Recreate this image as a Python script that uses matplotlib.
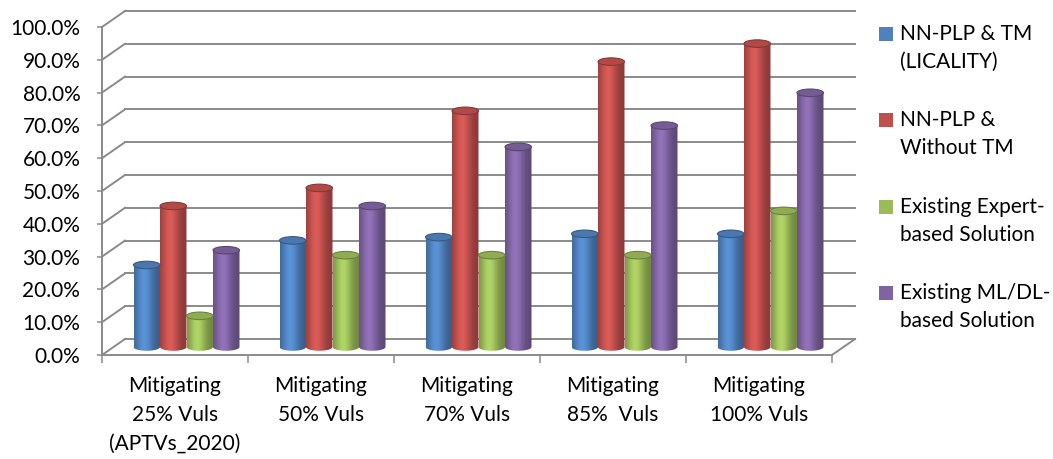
import numpy as np
import matplotlib

matplotlib.use("Agg")
import matplotlib.pyplot as plt
from matplotlib.colors import to_rgb
from matplotlib.patches import Ellipse, PathPatch, Rectangle
from matplotlib.path import Path
from matplotlib.ticker import FixedLocator, NullFormatter, PercentFormatter

plt.rcParams["font.family"] = ["Lato", "DejaVu Sans"]

categories = [
    "Mitigating\n25% Vuls\n(APTVs_2020)",
    "Mitigating\n50% Vuls",
    "Mitigating\n70% Vuls",
    "Mitigating\n85%  Vuls",
    "Mitigating\n100% Vuls",
]
series_names = [
    "NN-PLP & TM\n(LICALITY)",
    "NN-PLP &\nWithout TM",
    "Existing Expert-\nbased Solution",
    "Existing ML/DL-\nbased Solution",
]
nn_plp_tm = [25.0, 32.5, 33.5, 34.5, 34.5]
nn_plp_no_tm = [43.0, 48.5, 72.0, 87.0, 92.5]
expert_based = [9.5, 28.0, 28.0, 28.0, 41.5]
ml_dl_based = [29.5, 43.0, 61.0, 67.5, 77.5]
series_values = [nn_plp_tm, nn_plp_no_tm, expert_based, ml_dl_based]
series_colors = ["#4F81BD", "#C0504D", "#9BBB59", "#8064A2"]
y_ticks = list(range(0, 101, 10))

# layout in output pixels (1053 x 459)
W, H = 1053, 459
X0_PX, CAT_PX = 102, 146      # x=0 of the front plane, width of one category
Y0_PX, PCT_PX = 355, 3.28     # y=0 of the front plane, pixels per percent
DX = 23 / CAT_PX              # depth offset of the back wall, data units
DY = 16 / PCT_PX
XLIM = (-0.01, 5.25)
YLIM = (-4.5, 106.5)
GRID = "#8a8a8a"
FS = 15

fig = plt.figure(figsize=(W / 100, H / 100), dpi=100)
left = X0_PX + XLIM[0] * CAT_PX
right = X0_PX + XLIM[1] * CAT_PX
bottom = Y0_PX - YLIM[0] * PCT_PX
top = Y0_PX - YLIM[1] * PCT_PX
ax = fig.add_axes([left / W, 1 - bottom / H, (right - left) / W, (bottom - top) / H])
ax.set_facecolor("none")

n_cat = len(categories)

# back wall gridlines and side wall diagonals
for v in y_ticks:
    ax.plot([DX, n_cat + DX], [v + DY, v + DY], color=GRID, lw=1.4, zorder=1)
    ax.plot([0, DX], [v, v + DY], color=GRID, lw=1.4, zorder=1)
ax.plot([n_cat, n_cat + DX], [0, DY], color=GRID, lw=1.4, zorder=1)


def cylinder(xc, width, y0, y1, color, eh=2.3):
    """Shaded cylinder standing on y0, top at y1 (data units)."""
    rgb = np.array(to_rgb(color))
    x0, x1 = xc - width / 2, xc + width / 2
    t = np.linspace(0, np.pi, 40)
    bx = xc - np.cos(t) * width / 2
    by = y0 - np.sin(t) * eh / 2
    verts = [(x0, y1)] + list(zip(bx, by)) + [(x1, y1), (x0, y1)]
    codes = [Path.MOVETO] + [Path.LINETO] * (len(verts) - 2) + [Path.CLOSEPOLY]
    body = PathPatch(Path(verts, codes), facecolor="none", edgecolor="none",
                     transform=ax.transData, zorder=3)
    ax.add_patch(body)

    s = np.linspace(0, 1, 64)
    shade = 0.72 + 0.42 * np.exp(-((s - 0.38) / 0.32) ** 2)
    grad = np.clip(rgb[None, :] * shade[:, None], 0, 1)[None, :, :]
    im = ax.imshow(grad, extent=[x0, x1, y0 - eh, y1], aspect="auto",
                   interpolation="bilinear", zorder=3)
    im.set_clip_path(body)

    cap = Ellipse((xc, y1), width, eh, facecolor=np.clip(rgb * 0.92, 0, 1),
                  edgecolor=np.clip(rgb * 0.7, 0, 1), lw=0.8, zorder=4)
    ax.add_patch(cap)


# bars stand halfway between the front edge and the back wall
bar_w = 26.5 / CAT_PX
n_series = len(series_values)
for i in range(n_cat):
    for j, (vals, col) in enumerate(zip(series_values, series_colors)):
        xc = i + 0.5 + DX / 2 + (j - (n_series - 1) / 2) * bar_w
        cylinder(xc, bar_w, DY / 2, vals[i] + DY / 2, col)

# front axes: value axis and category floor edge
for side in ("top", "right"):
    ax.spines[side].set_visible(False)
for side in ("left", "bottom"):
    ax.spines[side].set_position(("data", 0))
    ax.spines[side].set_color(GRID)
    ax.spines[side].set_linewidth(1.4)
ax.spines["left"].set_bounds(0, 100)
ax.spines["bottom"].set_bounds(0, n_cat)

ax.set_yticks(y_ticks)
ax.yaxis.set_major_formatter(PercentFormatter(xmax=100, decimals=1))
ax.tick_params(axis="y", length=3.6, width=1.1, color=GRID, pad=12, labelsize=FS)

ax.xaxis.set_major_locator(FixedLocator(np.arange(n_cat + 1)))
ax.xaxis.set_major_formatter(NullFormatter())
ax.xaxis.set_minor_locator(FixedLocator(np.arange(n_cat) + 0.5))
ax.set_xticklabels(categories, minor=True, linespacing=1.55)
ax.tick_params(axis="x", which="major", length=6, width=1.1, color=GRID)
ax.tick_params(axis="x", which="minor", length=0, pad=15, labelsize=FS)

ax.set_xlim(*XLIM)
ax.set_ylim(*YLIM)

# legend: square beside the first line of each entry
first_line_px = [34, 120, 207, 293]
for name, col, yl in zip(series_names, series_colors, first_line_px):
    fig.add_artist(Rectangle((879 / W, 1 - (yl + 7) / H), 14 / W, 14 / H,
                             transform=fig.transFigure, facecolor=col,
                             edgecolor="none"))
    fig.text(900 / W, 1 - (yl + 14) / H, name, fontsize=FS, va="center",
             ha="left", linespacing=1.45)

fig.savefig("out.png", dpi=100)
